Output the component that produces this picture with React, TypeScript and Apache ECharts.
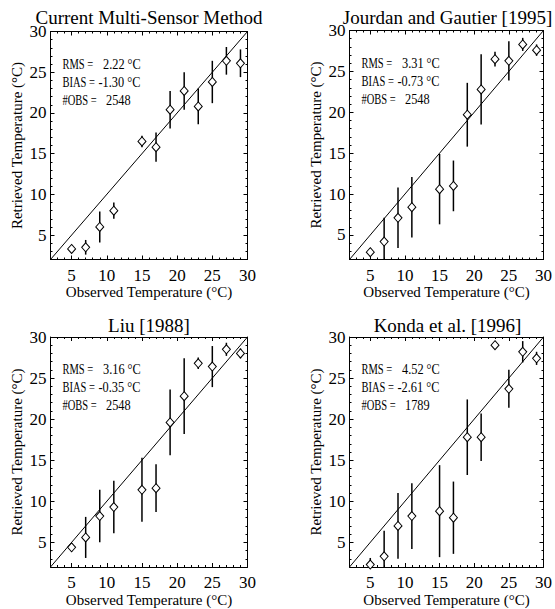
import React, { useEffect, useRef } from 'react';
import * as echarts from 'echarts';

// ---------- data ----------
const observedTemps = [5, 7, 9, 11, 15, 17, 19, 21, 23, 25, 27, 29];

const panelTitles = [
  'Current Multi-Sensor Method',
  'Jourdan and Gautier [1995]',
  'Liu [1988]',
  'Konda et al. [1996]',
];

const multiSensorMean = [3.3, 3.5, 6.0, 8.0, 16.5, 15.8, 20.4, 22.7, 20.8, 23.8, 26.4, 26.1];
const multiSensorStd = [0.3, 0.9, 1.9, 1.0, 0.7, 1.8, 2.3, 2.3, 2.2, 2.6, 1.7, 1.7];

const jourdanMean = [2.9, 4.2, 7.1, 8.4, 10.6, 11.0, 19.7, 22.8, 26.5, 26.3, 28.3, 27.6];
const jourdanStd = [0.5, 2.9, 3.7, 3.7, 4.3, 3.1, 3.9, 4.3, 0.9, 2.4, 0.8, 0.7];

const liuMean = [4.4, 5.6, 8.2, 9.3, 11.4, 11.6, 19.6, 22.8, 26.8, 26.4, 28.5, 28.0];
const liuStd = [0.5, 2.5, 3.2, 3.2, 3.9, 2.9, 4.0, 4.6, 0.7, 2.5, 0.8, 0.6];

const kondaMean = [2.3, 3.3, 7.0, 8.2, 8.8, 8.0, 17.8, 17.8, 29.0, 23.7, 28.2, 27.4];
const kondaStd = [0.8, 3.1, 4.0, 4.0, 5.6, 4.4, 4.6, 2.9, 0, 2.3, 1.3, 0.8];

const rmsValues = ['2.22', '3.31', '3.16', '4.52'];
const biasValues = ['-1.30', '-0.73', '-0.35', '-2.61'];
const obsCounts = ['2548', '2548', '2548', '1789'];

const axisMin = 2;
const axisMax = 30;
const majorTicks = [5, 10, 15, 20, 25, 30];
const minorTicks = [3, 4, 5, 6, 7, 8, 9, 10, 11, 12, 13, 14, 15, 16, 17, 18, 19, 20, 21, 22, 23, 24, 25, 26, 27, 28, 29];
const oneToOneLine = [[axisMin, axisMin], [axisMax, axisMax]];

const xAxisName = 'Observed Temperature (°C)';
const yAxisName = 'Retrieved Temperature (°C)';

const panelMeans = [multiSensorMean, jourdanMean, liuMean, kondaMean];
const panelStds = [multiSensorStd, jourdanStd, liuStd, kondaStd];

// ---------- layout ----------
const grids = [
  { left: 50.5, top: 31.5, width: 197, height: 228 },
  { left: 349.5, top: 30.5, width: 196, height: 229 },
  { left: 50.5, top: 337, width: 197, height: 230 },
  { left: 349.5, top: 337, width: 196, height: 230 },
];
const titleY = [17, 17, 325, 325];

const FONT = "'Liberation Serif', 'Times New Roman', serif";
const BLACK = '#000';

function buildOption() {
  const xAxes: any[] = [];
  const yAxes: any[] = [];
  const series: any[] = [];
  const graphics: any[] = [];

  grids.forEach((g, i) => {
    const base = {
      gridIndex: i,
      type: 'value',
      min: axisMin,
      max: axisMax,
      splitLine: { show: false },
    };
    xAxes.push({
      ...base,
      position: 'bottom',
      axisLine: { show: true, onZero: false, lineStyle: { color: BLACK, width: 1 } },
      axisTick: { show: true, inside: true, length: 2, customValues: minorTicks, lineStyle: { color: BLACK } },
      axisLabel: { show: true, customValues: majorTicks, margin: 7, color: BLACK, fontSize: 17, fontFamily: FONT },
      name: xAxisName,
      nameLocation: 'middle',
      nameGap: 25,
      nameTextStyle: { color: BLACK, fontSize: 15, fontFamily: FONT },
    });
    xAxes.push({
      ...base,
      position: 'bottom',
      axisLine: { show: false, onZero: false },
      axisTick: { show: true, inside: true, length: 4, customValues: majorTicks, lineStyle: { color: BLACK } },
      axisLabel: { show: false },
    });
    xAxes.push({
      ...base,
      position: 'top',
      axisLine: { show: true, onZero: false, lineStyle: { color: BLACK, width: 1 } },
      axisTick: { show: true, inside: true, length: 2, customValues: minorTicks, lineStyle: { color: BLACK } },
      axisLabel: { show: false },
    });
    xAxes.push({
      ...base,
      position: 'top',
      axisLine: { show: false, onZero: false },
      axisTick: { show: true, inside: true, length: 4, customValues: majorTicks, lineStyle: { color: BLACK } },
      axisLabel: { show: false },
    });

    yAxes.push({
      ...base,
      position: 'left',
      axisLine: { show: true, onZero: false, lineStyle: { color: BLACK, width: 1 } },
      axisTick: { show: true, inside: true, length: 2, customValues: minorTicks, lineStyle: { color: BLACK } },
      axisLabel: { show: true, customValues: majorTicks, margin: 4, color: BLACK, fontSize: 17, fontFamily: FONT },
      name: yAxisName,
      nameLocation: 'middle',
      nameRotate: 90,
      nameGap: 26,
      nameTextStyle: { color: BLACK, fontSize: 15, fontFamily: FONT },
    });
    yAxes.push({
      ...base,
      position: 'left',
      axisLine: { show: false, onZero: false },
      axisTick: { show: true, inside: true, length: 4, customValues: majorTicks, lineStyle: { color: BLACK } },
      axisLabel: { show: false },
    });
    yAxes.push({
      ...base,
      position: 'right',
      axisLine: { show: true, onZero: false, lineStyle: { color: BLACK, width: 1 } },
      axisTick: { show: true, inside: true, length: 2, customValues: minorTicks, lineStyle: { color: BLACK } },
      axisLabel: { show: false },
    });
    yAxes.push({
      ...base,
      position: 'right',
      axisLine: { show: false, onZero: false },
      axisTick: { show: true, inside: true, length: 4, customValues: majorTicks, lineStyle: { color: BLACK } },
      axisLabel: { show: false },
    });

    const axisIdx = i * 4;
    const means = panelMeans[i];
    const stds = panelStds[i];

    series.push({
      type: 'line',
      xAxisIndex: axisIdx,
      yAxisIndex: axisIdx,
      data: oneToOneLine,
      symbol: 'none',
      silent: true,
      lineStyle: { color: BLACK, width: 1 },
      z: 2,
    });

    series.push({
      type: 'custom',
      xAxisIndex: axisIdx,
      yAxisIndex: axisIdx,
      encode: { x: 0, y: 1 },
      data: observedTemps.map((t, k) => [t, means[k], stds[k]]),
      renderItem: (params: any, api: any) => {
        const x = api.value(0);
        const m = api.value(1);
        const s = api.value(2);
        const lo = Math.max(axisMin, m - s);
        const hi = Math.min(axisMax, m + s);
        if (!(hi > lo)) return { type: 'group', children: [] };
        const p1 = api.coord([x, lo]);
        const p2 = api.coord([x, hi]);
        return {
          type: 'line',
          shape: { x1: p1[0], y1: p1[1], x2: p2[0], y2: p2[1] },
          style: { stroke: BLACK, lineWidth: 1.5 },
        };
      },
      z: 3,
      silent: true,
    });

    series.push({
      type: 'scatter',
      xAxisIndex: axisIdx,
      yAxisIndex: axisIdx,
      data: observedTemps.map((t, k) => [t, means[k]]),
      symbol: 'diamond',
      symbolSize: [8, 9],
      itemStyle: { color: '#fff', borderColor: BLACK, borderWidth: 1, opacity: 1 },
      z: 4,
      silent: true,
    });

    // title
    graphics.push({
      type: 'text',
      x: g.left + g.width / 2,
      y: titleY[i],
      style: {
        text: panelTitles[i],
        fill: BLACK,
        fontSize: 19,
        fontFamily: FONT,
        fontWeight: 'normal',
        textAlign: 'center',
        textVerticalAlign: 'middle',
      },
    });

    // stats annotation
    const labX = g.left + 12;
    const rowY = [g.top + 32.5, g.top + 50.5, g.top + 68.5];
    const labels = ['RMS =', 'BIAS =', '#OBS ='];
    const values = [`${rmsValues[i]} °C`, `${biasValues[i]} °C`, obsCounts[i]];
    const valueOffsets = [52.5, 48, 55.5];
    labels.forEach((lab, r) => {
      graphics.push({
        type: 'text',
        x: labX,
        y: rowY[r],
        scaleX: 0.75,
        style: {
          text: lab, fill: BLACK, fontSize: 14, fontFamily: FONT, fontWeight: 'normal',
          textAlign: 'left', textVerticalAlign: 'middle',
        },
      });
      graphics.push({
        type: 'text',
        x: g.left + valueOffsets[r],
        y: rowY[r],
        scaleX: 0.88,
        style: {
          text: values[r], fill: BLACK, fontSize: 14, fontFamily: FONT, fontWeight: 'normal',
          textAlign: 'left', textVerticalAlign: 'middle',
        },
      });
    });
  });

  return {
    animation: false,
    backgroundColor: '#fff',
    grid: grids.map((g) => ({ ...g, containLabel: false })),
    xAxis: xAxes,
    yAxis: yAxes,
    series,
    graphic: graphics,
  };
}

export default function App() {
  const ref = useRef<HTMLDivElement>(null);
  useEffect(() => {
    if (!ref.current) return;
    const chart = echarts.init(ref.current, null, { renderer: 'svg' });
    chart.setOption(buildOption() as any);
    return () => chart.dispose();
  }, []);
  return (
    <div
      ref={ref}
      style={{ position: 'fixed', left: 0, top: 0, width: 555, height: 609, background: '#fff' }}
    />
  );
}
